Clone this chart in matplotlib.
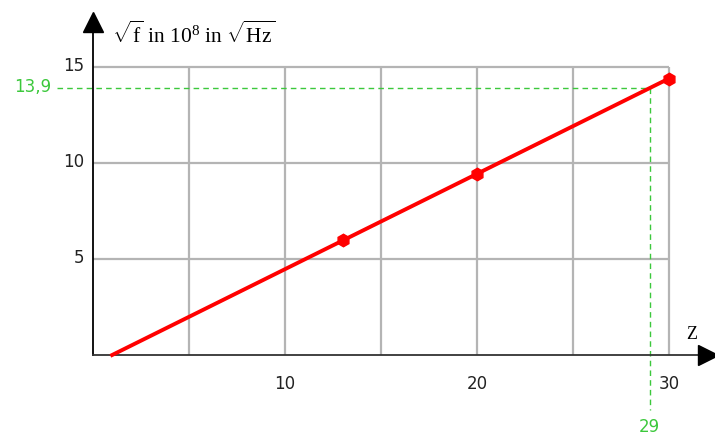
import matplotlib.pyplot as plt
import numpy as np

plt.rcParams['mathtext.fontset'] = 'custom'
plt.rcParams['mathtext.rm'] = 'Liberation Serif'
plt.rcParams['mathtext.it'] = 'Liberation Serif:italic'

# data
line_z = [1, 30]
line_f = [0, 14.4]
point_z = [13, 20, 30]
point_f = [6.0, 9.45, 14.4]
x_ticks = [10, 20, 30]
y_ticks = [5, 10, 15]
x_grid = [5, 10, 15, 20, 25, 30]
mark_z = 29
mark_f = 13.9

grey = '#b4b4b4'
green = '#3cc83c'
red = '#ff0000'

fig = plt.figure(figsize=(7.15, 4.37), dpi=100)
ax = fig.add_axes([0, 0, 1, 1])
ax.set_xlim(-4.84, 32.4)
ax.set_ylim(-4.27, 18.49)
ax.axis('off')

# grid
ax.vlines(x_grid, 0, 15, color=grey, lw=1.6, zorder=1)
ax.hlines(y_ticks, 0, 30, color=grey, lw=1.6, zorder=1)

# axes with arrows
ax.plot([0, 0], [0, 17.2], color='black', lw=1.3, zorder=3)
ax.plot([0, 31.7], [0, 0], color='#333333', lw=1.3, zorder=3)
ax.plot(0, 17.35, marker='^', ms=15, color='black', clip_on=False, zorder=4)
ax.plot(32.05, 0, marker='>', ms=15, color='black', clip_on=False, zorder=4)

# green guide lines
ax.plot([-1.85, mark_z], [mark_f, mark_f], color=green, lw=1, ls=(0, (4, 3)), zorder=2)
ax.plot([mark_z, mark_z], [mark_f, -2.85], color=green, lw=1, ls=(0, (4, 3)), zorder=2)

# data
ax.plot(line_z, line_f, color=red, lw=2.8, zorder=5)
ax.plot(point_z, point_f, 'h', color=red, ms=9, zorder=6, clip_on=False)

# tick labels
for t in y_ticks:
    ax.text(-0.45, t + 0.05, str(t), ha='right', va='center', fontsize=12,
            family='DejaVu Sans', color='#222222')
for t in x_ticks:
    ax.text(t, -1.05, str(t), ha='center', va='top', fontsize=12,
            family='DejaVu Sans', color='#222222')
ax.text(-2.15, mark_f + 0.05, '13,9', ha='right', va='center', fontsize=12,
        family='DejaVu Sans', color=green)
ax.text(mark_z, -3.3, '29', ha='center', va='top', fontsize=12,
        family='DejaVu Sans', color=green)

# axis labels
ax.text(1.0, 16.0, r'$\sqrt{\mathrm{f}}$ in 10$^{8}$ in $\sqrt{\mathrm{Hz}}$',
        ha='left', va='bottom', fontsize=15.5, family='Liberation Serif')
ax.text(31.2, 0.6, 'Z', ha='center', va='bottom', fontsize=13, family='Liberation Serif')

fig.savefig('out.png', dpi=100)
